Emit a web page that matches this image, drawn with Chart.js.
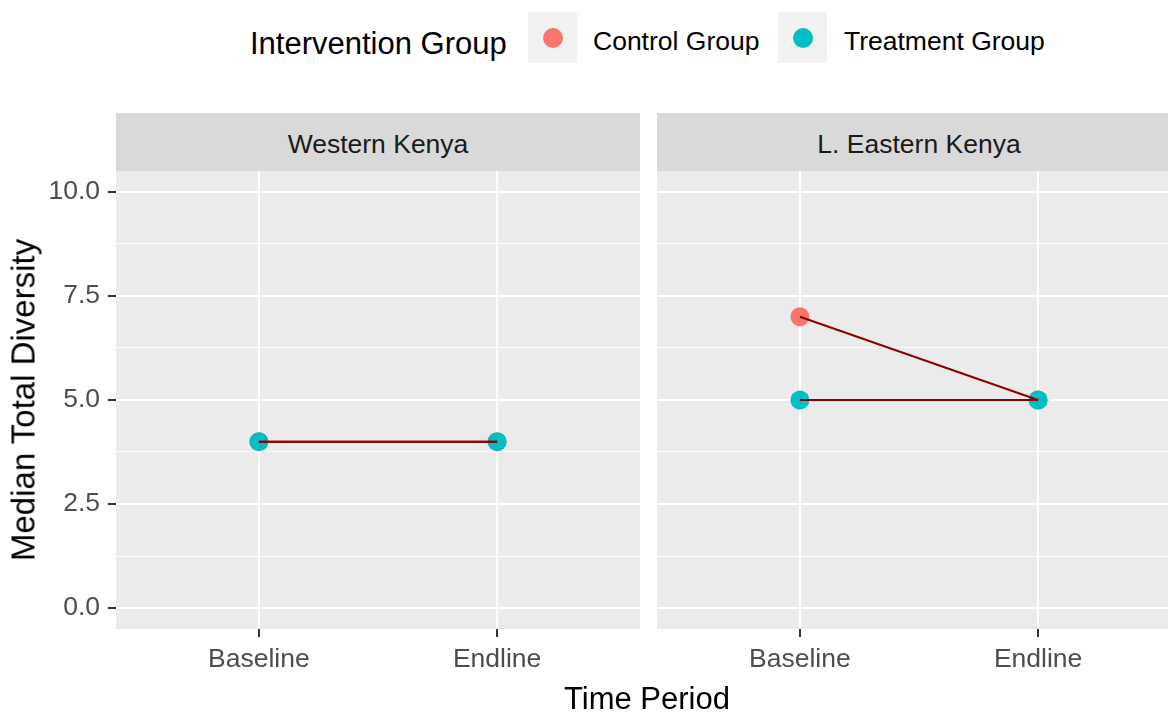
<!DOCTYPE html>
<html>
<head>
<meta charset="utf-8">
<script src="https://cdn.jsdelivr.net/npm/chart.js@4.4.1/dist/chart.umd.min.js"></script>
<style>
  body { margin: 0; width: 1168px; height: 715px; overflow: hidden; background: #fff; position: relative; font-family: "Liberation Sans", Arial, sans-serif; }
  canvas { position: absolute; }
  .strip { position: absolute; top: 113px; height: 58px; width: 524px; background: #D9D9D9; color: #1A1A1A; font-size: 26.5px; line-height: 58px; padding-top: 2px; box-sizing: border-box; text-align: center; }
  .texto { position: absolute; white-space: nowrap; line-height: 1; }
  .titulo { font-size: 31px; color: #000; }
  .rotulo { font-size: 26.5px; color: #000; }
  .chave { position: absolute; top: 12px; width: 49px; height: 51px; background: #F2F2F2; }
  .chave span { position: absolute; left: 14.5px; top: 15.5px; width: 20px; height: 20px; border-radius: 50%; }
</style>
</head>
<body>

<!-- legenda -->
<div class="texto titulo" style="left:250px; top:28px;">Intervention Group</div>
<div class="chave" style="left:528px;"><span style="background:#F8766D"></span></div>
<div class="texto rotulo" style="left:593px; top:28px;">Control Group</div>
<div class="chave" style="left:778px;"><span style="background:#00BFC4"></span></div>
<div class="texto rotulo" style="left:844px; top:28px;">Treatment Group</div>

<!-- faixas dos paineis -->
<div class="strip" id="strip0" style="left:116px;"></div>
<div class="strip" id="strip1" style="left:657px;"></div>

<!-- o painel da direita tem 10px de folga a esquerda (raio dos pontos) -->
<canvas id="painelOeste" width="650" height="554" style="left:0; top:161px;"></canvas>
<canvas id="painelLeste" width="544" height="554" style="left:647px; top:161px;"></canvas>

<!-- titulos dos eixos -->
<div class="texto titulo" style="left:647px; top:683px; transform:translateX(-50%);">Time Period</div>
<div class="texto titulo" style="left:23px; top:400px; font-size:33px; transform:translate(-50%,-50%) rotate(-90deg);">Median Total Diversity</div>

<script>
// dados
const periods = ['Baseline', 'Endline'];
const regions = ['Western Kenya', 'L. Eastern Kenya'];
const yMajor = [0, 2.5, 5, 7.5, 10];
const yMinor = [1.25, 3.75, 6.25, 8.75];
const westControl = [4, 4];
const westTreatment = [4, 4];
const eastControl = [7, 5];
const eastTreatment = [5, 5];

const corControle = '#F8766D';
const corTratamento = '#00BFC4';
const corLinha = '#8B0000';
const fonteTick = { family: '"Liberation Sans", Arial, sans-serif', size: 26.5 };

regions.forEach((r, i) => {
  document.getElementById('strip' + i).textContent = r;
});

// fundo cinza da area do grafico
const fundoPainel = {
  id: 'fundoPainel',
  beforeDraw(chart) {
    const { ctx, chartArea: a } = chart;
    ctx.save();
    ctx.fillStyle = '#EBEBEB';
    ctx.fillRect(a.left, a.top, a.right - a.left, a.bottom - a.top);
    ctx.restore();
  }
};

const pontos = vals => vals.map((v, i) => ({ x: i + 1, y: v }));
const ehMajor = v => yMajor.includes(v);

function criarPainel(id, control, treatment, mostrarY) {
  const ctx = document.getElementById(id).getContext('2d');
  return new Chart(ctx, {
    type: 'line',
    data: {
      datasets: [
        { data: pontos(control), showLine: false, pointRadius: 9.5, pointBorderWidth: 0, pointBackgroundColor: corControle, order: 4 },
        { data: pontos(treatment), showLine: false, pointRadius: 9.5, pointBorderWidth: 0, pointBackgroundColor: corTratamento, order: 3 },
        { data: pontos(control), borderColor: corLinha, borderWidth: 2, pointRadius: 0, order: 2 },
        { data: pontos(treatment), borderColor: corLinha, borderWidth: 2, pointRadius: 0, order: 1 }
      ]
    },
    options: {
      responsive: false,
      animation: false,
      events: [],
      layout: { padding: { top: 10, right: 10, left: mostrarY ? 0 : 10, bottom: 0 } },
      plugins: { legend: { display: false }, tooltip: { enabled: false } },
      scales: {
        x: {
          type: 'linear',
          min: 0.4,
          max: 2.6,
          afterBuildTicks: axis => { axis.ticks = periods.map((p, i) => ({ value: i + 1 })); },
          afterFit: axis => {
            axis.height = 86;
            axis.paddingLeft = axis.paddingRight = 0;
          },
          ticks: { callback: v => periods[v - 1], color: '#4D4D4D', font: fonteTick, padding: 7, maxRotation: 0, autoSkip: false },
          grid: { color: '#FFFFFF', lineWidth: 2, tickColor: '#333333', tickLength: 8, tickWidth: 2 },
          border: { display: false }
        },
        y: {
          type: 'linear',
          min: -0.5,
          max: 10.5,
          afterBuildTicks: axis => {
            axis.ticks = [...yMajor, ...yMinor].sort((a, b) => a - b).map(v => ({ value: v }));
          },
          afterFit: axis => {
            axis.width = mostrarY ? 116 : 0;
            axis.paddingTop = axis.paddingBottom = 0;
          },
          ticks: {
            display: mostrarY,
            autoSkip: false,
            callback: v => ehMajor(v) ? v.toFixed(1) : '',
            color: '#4D4D4D',
            font: fonteTick,
            padding: 8
          },
          grid: {
            color: '#FFFFFF',
            lineWidth: c => ehMajor(c.tick.value) ? 2 : 1.1,
            drawTicks: mostrarY,
            tickLength: 8,
            tickWidth: 2,
            tickColor: c => ehMajor(c.tick.value) ? '#333333' : 'rgba(0,0,0,0)'
          },
          border: { display: false }
        }
      }
    },
    plugins: [fundoPainel]
  });
}

criarPainel('painelOeste', westControl, westTreatment, true);
criarPainel('painelLeste', eastControl, eastTreatment, false);
</script>
</body>
</html>
